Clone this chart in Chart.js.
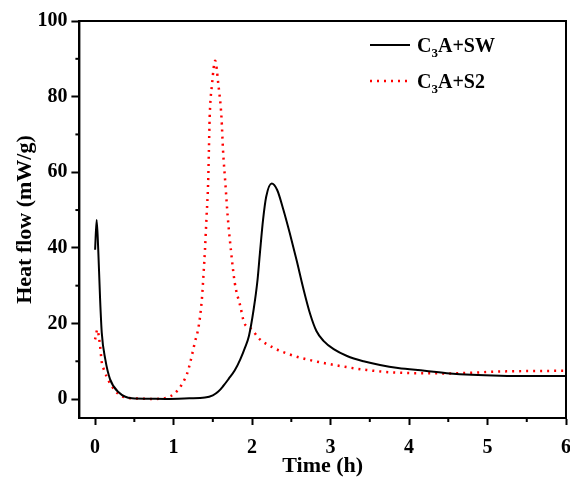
<!DOCTYPE html>
<html>
<head>
<meta charset="utf-8">
<script src="https://cdn.jsdelivr.net/npm/chart.js@4.4.1/dist/chart.umd.min.js"></script>
<style>
  html, body { margin: 0; padding: 0; background: #fff; }
  #wrap { width: 570px; height: 481px; }
</style>
</head>
<body>
<div id="wrap"><canvas id="heatChart" width="570" height="481"></canvas></div>
<script>
// values
const swTime = [0, 0.02, 0.04, 0.064, 0.085, 0.13, 0.19, 0.3, 0.47, 0.66, 0.9, 1.2, 1.4, 1.5, 1.57, 1.63, 1.7, 1.78, 1.85, 1.91, 1.96, 2.02, 2.07, 2.1, 2.14, 2.18, 2.25, 2.32, 2.4, 2.48, 2.57, 2.65, 2.74, 2.82, 2.91, 3.04, 3.21, 3.42, 3.63, 3.86, 4.2, 4.52, 5.16, 5.6, 6.0];
const swFlow = [39.5, 47.4, 39.5, 26.3, 17.5, 10.5, 5.3, 1.8, 0.2, 0.1, 0.05, 0.2, 0.4, 1.0, 2.0, 3.4, 5.3, 7.6, 10.5, 13.6, 16.7, 23.7, 31.6, 38.6, 47.4, 53.5, 57, 55.3, 50, 43.9, 36.5, 29.5, 22.5, 18, 15.4, 13.2, 11.4, 10.0, 9.0, 8.2, 7.5, 6.8, 6.2, 6.1, 6.1];

const s2Time = [0, 0.03, 0.05, 0.064, 0.085, 0.11, 0.15, 0.21, 0.3, 0.4, 0.6, 0.76, 0.955, 1.06, 1.125, 1.17, 1.21, 1.27, 1.32, 1.36, 1.38, 1.4, 1.42, 1.44, 1.45, 1.46, 1.49, 1.53, 1.57, 1.61, 1.63, 1.66, 1.69, 1.73, 1.78, 1.85, 1.9, 2.0, 2.08, 2.27, 2.48, 2.7, 3.08, 3.46, 3.84, 4.52, 5.16, 6.0];
const s2Flow = [15.8, 18.4, 16.2, 14, 9.7, 7.9, 5.8, 3.5, 1.3, 0.4, 0.1, 0.05, 0.7, 2.5, 4.6, 6.6, 9.5, 14.9, 19.3, 26.3, 32.5, 39.5, 48.2, 57, 65.8, 74.6, 83.3, 89.5, 83.3, 74.6, 65.8, 57, 48.2, 39.5, 30.7, 24.6, 20.2, 18.4, 16.2, 13.6, 11.8, 10.5, 8.9, 7.7, 7.0, 6.8, 7.3, 7.5];

const xTicks = [0, 1, 2, 3, 4, 5, 6];
const yTicks = [0, 20, 40, 60, 80, 100];

const FONT = "'Liberation Serif', 'Times New Roman', serif";

const toPoints = (xs, ys) => xs.map((x, i) => ({ x: x, y: ys[i] }));

// legend with subscript 3, drawn on the canvas
const legendItems = [
  { base: "C", sub: "3", rest: "A+SW", color: "#000", dash: [], width: 2 },
  { base: "C", sub: "3", rest: "A+S2", color: "#ff0000", dash: [2, 5], width: 2.5 },
];

const framePlugin = {
  id: "frame",
  afterDraw(chart) {
    const { ctx, chartArea: a, scales } = chart;
    ctx.save();
    ctx.strokeStyle = "#000";
    ctx.lineWidth = 2;
    ctx.strokeRect(a.left, a.top, a.right - a.left, a.bottom - a.top);

    // minor ticks, half way between the labelled ones
    for (let i = 0; i < xTicks.length - 1; i++) {
      const px = scales.x.getPixelForValue((xTicks[i] + xTicks[i + 1]) / 2);
      ctx.beginPath();
      ctx.moveTo(px, a.bottom);
      ctx.lineTo(px, a.bottom + 4);
      ctx.stroke();
    }
    for (let i = 0; i < yTicks.length - 1; i++) {
      const py = scales.y.getPixelForValue((yTicks[i] + yTicks[i + 1]) / 2);
      ctx.beginPath();
      ctx.moveTo(a.left, py);
      ctx.lineTo(a.left - 4, py);
      ctx.stroke();
    }

    // legend
    const lx = a.right - 196;
    let ly = a.top + 24;
    legendItems.forEach((it) => {
      ctx.strokeStyle = it.color;
      ctx.lineWidth = it.width;
      ctx.setLineDash(it.dash);
      ctx.beginPath();
      ctx.moveTo(lx, ly);
      ctx.lineTo(lx + 40, ly);
      ctx.stroke();
      ctx.setLineDash([]);

      ctx.fillStyle = "#000";
      ctx.textBaseline = "alphabetic";
      ctx.font = "bold 20px " + FONT;
      let tx = lx + 47;
      const base = ly + 7;
      ctx.fillText(it.base, tx, base);
      tx += ctx.measureText(it.base).width;
      ctx.font = "bold 13px " + FONT;
      ctx.fillText(it.sub, tx, base + 5);
      tx += ctx.measureText(it.sub).width;
      ctx.font = "bold 20px " + FONT;
      ctx.fillText(it.rest, tx, base);
      ly += 36;
    });
    ctx.restore();
  },
};

new Chart(document.getElementById("heatChart").getContext("2d"), {
  type: "line",
  data: {
    datasets: [
      {
        label: "C3A+SW",
        data: toPoints(swTime, swFlow),
        borderColor: "#000",
        borderWidth: 2,
        pointRadius: 0,
        cubicInterpolationMode: "monotone",
      },
      {
        label: "C3A+S2",
        data: toPoints(s2Time, s2Flow),
        borderColor: "#ff0000",
        borderWidth: 2.5,
        borderDash: [2, 5],
        pointRadius: 0,
        cubicInterpolationMode: "monotone",
      },
    ],
  },
  options: {
    responsive: false,
    animation: false,
    layout: { padding: { left: 7, right: 4, top: 21, bottom: 0 } },
    plugins: {
      legend: { display: false },
      tooltip: { enabled: false },
    },
    scales: {
      x: {
        type: "linear",
        min: -0.2,
        max: 6,
        afterBuildTicks: (s) => { s.ticks = xTicks.map((v) => ({ value: v })); },
        afterFit: (s) => { s.paddingRight = 0; },
        grid: { drawOnChartArea: false, drawTicks: true, tickLength: 7, tickWidth: 2, tickColor: "#000" },
        border: { display: true, color: "#000", width: 2 },
        ticks: { color: "#000", font: { family: FONT, size: 20, weight: "bold" }, padding: 11, maxRotation: 0 },
        title: { display: true, text: "Time (h)", color: "#000", font: { family: FONT, size: 22, weight: "bold", lineHeight: 1 }, padding: { top: -16, bottom: 4 } },
      },
      y: {
        min: -5,
        max: 100,
        afterBuildTicks: (s) => { s.ticks = yTicks.map((v) => ({ value: v })); },
        grid: { drawOnChartArea: false, drawTicks: true, tickLength: 8, tickWidth: 2, tickColor: "#000" },
        border: { display: true, color: "#000", width: 2 },
        ticks: { color: "#000", font: { family: FONT, size: 20, weight: "bold" }, padding: 4 },
        title: { display: true, text: "Heat flow (mW/g)", color: "#000", font: { family: FONT, size: 22, weight: "bold" }, padding: { top: 5, bottom: -5 } },
      },
    },
  },
  plugins: [framePlugin],
});
</script>
</body>
</html>
